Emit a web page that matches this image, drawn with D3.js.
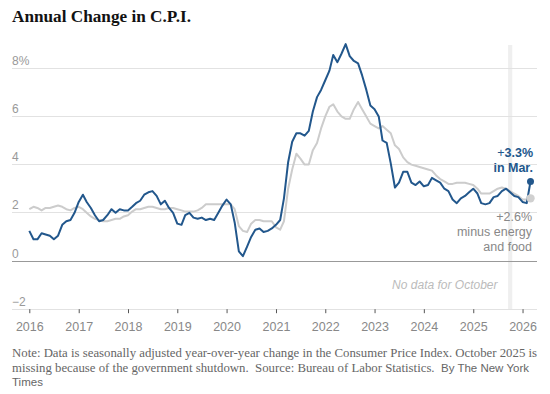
<!DOCTYPE html>
<html>
<head>
<meta charset="utf-8">
<script src="https://cdn.jsdelivr.net/npm/d3@7"></script>
<style>
  html, body { margin: 0; padding: 0; background: #fff; }
  svg { display: block; }
  .pre { white-space: pre; }
</style>
</head>
<body>
<svg id="chart" width="550" height="394"></svg>
<script>
// ---- data ----
const startYear = 2016; // first month: Jan 2016, monthly through Mar 2026
const headline = [
  // 2016
  1.25, 0.9, 0.9, 1.15, 1.1, 1.05, 0.9, 1.05, 1.5, 1.65, 1.7, 2.0,
  // 2017
  2.45, 2.75, 2.45, 2.2, 1.9, 1.65, 1.7, 1.9, 2.15, 2.0, 2.15, 2.1,
  // 2018
  2.1, 2.25, 2.4, 2.5, 2.75, 2.85, 2.9, 2.7, 2.35, 2.5, 2.2, 2.0,
  // 2019
  1.55, 1.5, 1.9, 2.0, 1.8, 1.75, 1.8, 1.7, 1.75, 1.7, 2.0, 2.3,
  // 2020
  2.55, 2.35, 1.6, 0.4, 0.2, 0.6, 1.0, 1.3, 1.35, 1.2, 1.25, 1.35,
  // 2021
  1.5, 1.7, 2.6, 4.1, 4.95, 5.3, 5.3, 5.2, 5.4, 6.2, 6.8, 7.1,
  // 2022
  7.5, 7.9, 8.55, 8.25, 8.6, 9.0, 8.5, 8.3, 8.2, 7.7, 7.1, 6.45,
  // 2023
  6.3, 6.0, 5.0, 4.9, 4.05, 3.05, 3.25, 3.7, 3.7, 3.25, 3.15, 3.3,
  // 2024
  3.1, 3.15, 3.45, 3.35, 3.25, 3.0, 2.9, 2.55, 2.4, 2.6, 2.7, 2.85,
  // 2025
  3.0, 2.8, 2.4, 2.35, 2.4, 2.65, 2.7, 2.9, 3.0, null, 2.7, 2.65,
  // 2026
  2.45, 2.4, 3.3
];
const core = [
  // 2016
  2.15, 2.25, 2.2, 2.1, 2.2, 2.2, 2.25, 2.3, 2.25, 2.15, 2.1, 2.2,
  // 2017
  2.25, 2.15, 2.0, 1.85, 1.75, 1.7, 1.65, 1.65, 1.7, 1.75, 1.75, 1.85,
  // 2018
  1.9, 2.05, 2.15, 2.15, 2.2, 2.25, 2.25, 2.2, 2.15, 2.15, 2.2, 2.2,
  // 2019
  2.15, 2.1, 2.05, 2.05, 2.05, 2.1, 2.2, 2.35, 2.35, 2.35, 2.35, 2.35,
  // 2020
  2.35, 2.35, 2.15, 1.45, 1.25, 1.2, 1.55, 1.7, 1.7, 1.65, 1.65, 1.65,
  // 2021
  1.4, 1.3, 1.65, 3.0, 3.8, 4.45, 4.25, 4.0, 4.0, 4.6, 4.9, 5.5,
  // 2022
  6.0, 6.4, 6.5, 6.2, 6.0, 5.9, 5.9, 6.3, 6.6, 6.3, 6.0, 5.7,
  // 2023
  5.6, 5.5, 5.6, 5.45, 5.3, 4.8, 4.65, 4.3, 4.1, 4.0, 3.95, 3.9,
  // 2024
  3.85, 3.8, 3.75, 3.55, 3.4, 3.3, 3.2, 3.2, 3.25, 3.25, 3.25, 3.2,
  // 2025
  3.15, 3.0, 2.8, 2.8, 2.8, 2.9, 3.0, 3.05, 3.0, null, 2.8, 2.7,
  // 2026
  2.55, 2.55, 2.6
];
const yearTicks = [2016, 2017, 2018, 2019, 2020, 2021, 2022, 2023, 2024, 2025, 2026];
const yTicks = [-2, 0, 2, 4, 6, 8];
const missingMonth = [2025, 9]; // October 2025 (month index 9)
const titleText = "Annual Change in C.P.I.";
const noteLines = [
  "Note: Data is seasonally adjusted year-over-year change in the Consumer Price Index. October 2025 is",
  "missing because of the government shutdown.  Source: Bureau of Labor Statistics.  "
];
const creditLines = ["By The New York", "Times"];

// ---- build ----
const svg = d3.select("#chart");
const monthDate = i => new Date(startYear, i, 1);
const rows = headline.map((v, i) => ({ date: monthDate(i), headline: v, core: core[i] }));

const x = d3.scaleTime()
  .domain([new Date(startYear, 0, 1), rows[rows.length - 1].date])
  .range([29.3, 530.5]);
const y = d3.scaleLinear().domain([-2, 8]).range([309.2, 68.2]);

const gridLeft = 12, gridRight = 537;
const blue = "#22578c";
const grayLine = "#cccccc";

// title
svg.append("text")
  .attr("x", 12).attr("y", 21.5)
  .attr("font-family", "'Liberation Serif', 'DejaVu Serif', serif")
  .attr("font-weight", "bold")
  .attr("font-size", 17.2)
  .attr("fill", "#121212")
  .text(titleText);

// missing data band
const mStart = new Date(missingMonth[0], missingMonth[1], 1);
svg.append("rect")
  .attr("x", x(d3.timeDay.offset(mStart, -15)))
  .attr("width", x(d3.timeDay.offset(mStart, 16)) - x(d3.timeDay.offset(mStart, -15)))
  .attr("y", 45)
  .attr("height", y(-2) - 45)
  .attr("fill", "#efefef");

// gridlines
const grid = svg.append("g");
grid.selectAll("line").data(yTicks).join("line")
  .attr("x1", gridLeft).attr("x2", gridRight)
  .attr("y1", d => y(d)).attr("y2", d => y(d))
  .attr("stroke", d => d === 0 ? "#999" : "#e2e2e2")
  .attr("stroke-width", 1)
  .attr("shape-rendering", "crispEdges");

grid.selectAll("text").data(yTicks).join("text")
  .attr("x", gridLeft).attr("y", d => y(d) - 3.5)
  .attr("font-family", "'Liberation Sans', Arial, sans-serif")
  .attr("font-size", 12)
  .attr("fill", "#999")
  .text(d => (d < 0 ? "\u2212" + Math.abs(d) : d) + (d === 8 ? "%" : ""));

// x axis
const xAxis = d3.axisBottom(x)
  .tickValues(yearTicks.map(yr => new Date(yr, 0, 1)))
  .tickFormat(d3.timeFormat("%Y"))
  .tickSize(4)
  .tickSizeOuter(0);
const gx = svg.append("g").attr("transform", `translate(0,${y(-2)})`).call(xAxis);
gx.select(".domain").remove();
gx.selectAll(".tick line").attr("stroke", "#555");
gx.selectAll(".tick text")
  .attr("font-family", "'Liberation Sans', Arial, sans-serif")
  .attr("font-size", 12.5)
  .attr("fill", "#888")
  .attr("dy", 0)
  .attr("y", 22);

// lines
const lineGen = key => d3.line()
  .x(d => x(d.date))
  .y(d => y(d[key]));

svg.append("path")
  .datum(rows.filter(d => d.core != null))
  .attr("d", lineGen("core"))
  .attr("fill", "none")
  .attr("stroke", grayLine)
  .attr("stroke-width", 2)
  .attr("stroke-linejoin", "round");

svg.append("path")
  .datum(rows.filter(d => d.headline != null))
  .attr("d", lineGen("headline"))
  .attr("fill", "none")
  .attr("stroke", blue)
  .attr("stroke-width", 2)
  .attr("stroke-linejoin", "round");

const last = rows[rows.length - 1];
svg.append("circle")
  .attr("cx", x(last.date)).attr("cy", y(last.core)).attr("r", 4.2)
  .attr("fill", "#d0d0d0");
svg.append("circle")
  .attr("cx", x(last.date)).attr("cy", y(last.headline)).attr("r", 3.5)
  .attr("fill", blue);

// annotations
const ann = svg.append("g")
  .attr("font-family", "'Liberation Sans', Arial, sans-serif")
  .attr("font-size", 12.5)
  .attr("text-anchor", "end");
const a1 = ann.append("text").attr("x", 533).attr("y", 157).attr("fill", blue);
a1.append("tspan").text("+");
a1.append("tspan").attr("font-weight", "bold").text(last.headline.toFixed(1) + "%");
ann.append("text").attr("x", 533).attr("y", 171.5).attr("fill", blue)
  .attr("font-weight", "bold").text("in Mar.");

ann.append("text").attr("x", 532).attr("y", 220.5).attr("fill", "#888")
  .text("+" + last.core.toFixed(1) + "%");
ann.append("text").attr("x", 532).attr("y", 235.5).attr("fill", "#888")
  .text("minus energy");
ann.append("text").attr("x", 532).attr("y", 250.5).attr("fill", "#888")
  .text("and food");

ann.append("text").attr("x", 497.5).attr("y", 288.5)
  .attr("fill", "#bbb").attr("font-style", "italic").attr("font-size", 12)
  .text("No data for October");

// note
const note = svg.append("g")
  .attr("font-family", "'Liberation Serif', 'DejaVu Serif', serif")
  .attr("font-size", 12.8)
  .attr("fill", "#666");
note.append("text").attr("class", "pre").attr("xml:space", "preserve")
  .attr("x", 12).attr("y", 357).text(noteLines[0]);
const n2 = note.append("text").attr("class", "pre").attr("xml:space", "preserve")
  .attr("x", 12).attr("y", 371.5);
n2.append("tspan").text(noteLines[1]);
n2.append("tspan").attr("font-family", "'Liberation Sans', Arial, sans-serif").attr("font-size", 11.5)
  .text(creditLines[0]);
note.append("text").attr("x", 12).attr("y", 386)
  .attr("font-family", "'Liberation Sans', Arial, sans-serif").attr("font-size", 11.5)
  .text(creditLines[1]);
</script>
</body>
</html>
